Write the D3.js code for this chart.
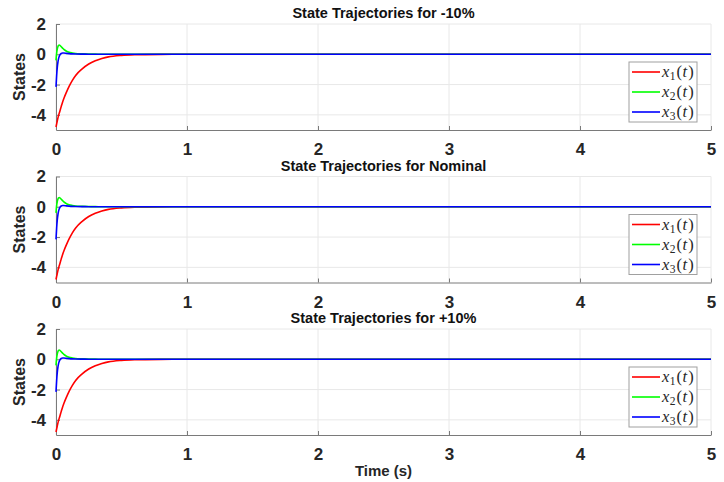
<!DOCTYPE html>
<html>
<head>
<meta charset="utf-8">
<script src="https://cdn.jsdelivr.net/npm/d3@7"></script>
<style>
  html, body { margin: 0; padding: 0; background: #fff; }
  svg { display: block; }
</style>
</head>
<body>
<svg id="chart" width="724" height="482"></svg>
<script>
// ---------------- data ----------------
const panelTitles = ["State Trajectories for -10%", "State Trajectories for Nominal", "State Trajectories for +10%"];
const seriesNames = ["x1", "x2", "x3"];
const xTicks = [0, 1, 2, 3, 4, 5];
const yTicks = [-4, -2, 0, 2];
const time = [0, 0.005, 0.01, 0.015, 0.02, 0.025, 0.03, 0.04, 0.05, 0.06, 0.08, 0.1, 0.125, 0.15, 0.2, 0.25, 0.3, 0.35, 0.4, 0.5, 0.6, 0.8, 1, 2, 3, 4, 5];

// -10%
const x1Minus10 = [-4.8, -4.6, -4.4, -4.2, -4.03, -3.88, -3.74, -3.44, -3.16, -2.92, -2.5, -2.12, -1.72, -1.4, -0.96, -0.64, -0.43, -0.28, -0.17, -0.07, -0.03, -0.006, 0, 0, 0, 0, 0];
const x2Minus10 = [-0.4, 0.08, 0.36, 0.52, 0.59, 0.61, 0.59, 0.5, 0.41, 0.32, 0.2, 0.13, 0.085, 0.055, 0.03, 0.015, 0.008, 0.004, 0.002, 0, 0, 0, 0, 0, 0, 0, 0];
const x3Minus10 = [-2.15, -1.4, -0.85, -0.5, -0.27, -0.13, -0.04, 0.05, 0.08, 0.08, 0.06, 0.045, 0.03, 0.02, 0.01, 0.005, 0.002, 0, 0, 0, 0, 0, 0, 0, 0, 0, 0];
// Nominal
const x1Nominal = [-4.8, -4.6, -4.4, -4.2, -4.03, -3.88, -3.74, -3.44, -3.16, -2.92, -2.5, -2.12, -1.72, -1.4, -0.96, -0.64, -0.43, -0.28, -0.17, -0.07, -0.03, -0.006, 0, 0, 0, 0, 0];
const x2Nominal = [-0.4, 0.08, 0.36, 0.52, 0.59, 0.61, 0.59, 0.5, 0.41, 0.32, 0.2, 0.13, 0.085, 0.055, 0.03, 0.015, 0.008, 0.004, 0.002, 0, 0, 0, 0, 0, 0, 0, 0];
const x3Nominal = [-2.15, -1.4, -0.85, -0.5, -0.27, -0.13, -0.04, 0.05, 0.08, 0.08, 0.06, 0.045, 0.03, 0.02, 0.01, 0.005, 0.002, 0, 0, 0, 0, 0, 0, 0, 0, 0, 0];
// +10%
const x1Plus10 = [-4.8, -4.6, -4.4, -4.2, -4.03, -3.88, -3.74, -3.44, -3.16, -2.92, -2.5, -2.12, -1.72, -1.4, -0.96, -0.64, -0.43, -0.28, -0.17, -0.07, -0.03, -0.006, 0, 0, 0, 0, 0];
const x2Plus10 = [-0.4, 0.08, 0.36, 0.52, 0.59, 0.61, 0.59, 0.5, 0.41, 0.32, 0.2, 0.13, 0.085, 0.055, 0.03, 0.015, 0.008, 0.004, 0.002, 0, 0, 0, 0, 0, 0, 0, 0];
const x3Plus10 = [-2.15, -1.4, -0.85, -0.5, -0.27, -0.13, -0.04, 0.05, 0.08, 0.08, 0.06, 0.045, 0.03, 0.02, 0.01, 0.005, 0.002, 0, 0, 0, 0, 0, 0, 0, 0, 0, 0];

const panelSeries = [
  [x1Minus10, x2Minus10, x3Minus10],
  [x1Nominal, x2Nominal, x3Nominal],
  [x1Plus10, x2Plus10, x3Plus10]
];
const colors = ["#ff0000", "#00ff00", "#0000ff"];

// ---------------- layout ----------------
const svg = d3.select("#chart");
const left = 56, right = 711;
const panelTops = [24, 176.5, 329];
const panelH = 106;
const sansBold = "'Liberation Sans', Arial, Helvetica, sans-serif";

const x = d3.scaleLinear().domain([0, 5]).range([left, right]);

panelTitles.forEach((title, p) => {
  const top = panelTops[p], bottom = top + panelH;
  const y = d3.scaleLinear().domain([-5, 2]).range([bottom, top]);
  const g = svg.append("g");

  // grid
  g.selectAll(".gx").data(xTicks).enter().append("line")
    .attr("x1", d => x(d)).attr("x2", d => x(d))
    .attr("y1", top).attr("y2", bottom)
    .attr("stroke", "#e8e8e8").attr("stroke-width", 1);
  g.selectAll(".gy").data(yTicks).enter().append("line")
    .attr("x1", left).attr("x2", right)
    .attr("y1", d => y(d)).attr("y2", d => y(d))
    .attr("stroke", "#e8e8e8").attr("stroke-width", 1);

  // axes
  const xAxis = d3.axisBottom(x).tickValues(xTicks).tickSizeInner(-4).tickSizeOuter(0).tickPadding(13).tickFormat(d3.format("d"));
  const yAxis = d3.axisLeft(y).tickValues(yTicks).tickSizeInner(-4).tickSizeOuter(0).tickPadding(10).tickFormat(d => d < 0 ? "-" + Math.abs(d) : String(d));
  const gx = g.append("g").attr("transform", `translate(0,${bottom})`).call(xAxis);
  const gy = g.append("g").attr("transform", `translate(${left},0)`).call(yAxis);
  [gx, gy].forEach(a => {
    a.select(".domain").attr("stroke", "#7a7a7a").attr("stroke-width", 1);
    a.selectAll(".tick line").attr("stroke", "#7a7a7a");
    a.selectAll(".tick text").attr("fill", "#262626")
      .style("font-family", sansBold).style("font-weight", "bold").style("font-size", "17px");
  });
  gx.selectAll(".tick text").attr("dy", "0.71em");

  // lines
  const lineGen = d3.line().x((d, i) => x(time[i])).y(d => y(d)).curve(d3.curveMonotoneX);
  panelSeries[p].forEach((vals, s) => {
    g.append("path").datum(vals)
      .attr("d", lineGen)
      .attr("fill", "none")
      .attr("stroke", colors[s])
      .attr("stroke-width", 1.6)
      .attr("stroke-linejoin", "round");
  });

  // title
  g.append("text")
    .attr("x", (left + right) / 2).attr("y", top - 6)
    .attr("text-anchor", "middle")
    .attr("fill", "#111")
    .style("font-family", sansBold).style("font-weight", "bold").style("font-size", "14.5px")
    .text(title);

  // y label
  g.append("text")
    .attr("transform", `translate(25,${(top + bottom) / 2}) rotate(-90)`)
    .attr("text-anchor", "middle")
    .attr("fill", "#262626")
    .style("font-family", sansBold).style("font-weight", "bold").style("font-size", "16px")
    .text("States");

  // legend
  const lgX = right - 82, lgY = top + 38;
  const lg = g.append("g").attr("transform", `translate(${lgX},${lgY})`);
  lg.append("rect").attr("width", 68).attr("height", 60)
    .attr("fill", "#fff").attr("stroke", "#a0a0a0").attr("stroke-width", 1);
  seriesNames.forEach((name, s) => {
    const cy = 10 + s * 20;
    lg.append("line").attr("x1", 3).attr("x2", 31).attr("y1", cy).attr("y2", cy)
      .attr("stroke", colors[s]).attr("stroke-width", 1.6);
    const t = lg.append("text").attr("x", 33).attr("y", cy + 5)
      .attr("fill", "#262626")
      .style("font-family", "'Liberation Serif', 'DejaVu Serif', serif").style("font-size", "16.5px");
    t.append("tspan").style("font-style", "italic").text("x");
    t.append("tspan").attr("dy", 3).attr("dx", 0.5).style("font-size", "11.5px").text(name.slice(1));
    t.append("tspan").attr("dy", -3).attr("dx", 1).text("(");
    t.append("tspan").attr("dx", 0.5).style("font-style", "italic").text("t");
    t.append("tspan").attr("dx", 1).text(")");
  });
});

// x label
svg.append("text")
  .attr("x", (left + right) / 2).attr("y", 476)
  .attr("text-anchor", "middle")
  .attr("fill", "#262626")
  .style("font-family", sansBold).style("font-weight", "bold").style("font-size", "15px")
  .text("Time (s)");
</script>
</body>
</html>
